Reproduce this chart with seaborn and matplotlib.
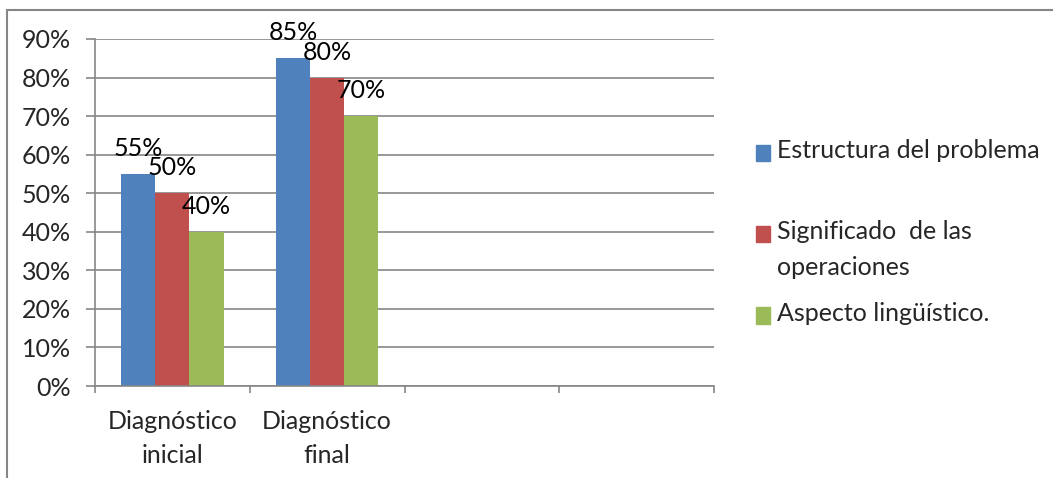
import numpy as np
import pandas as pd
import matplotlib
matplotlib.use("Agg")
import matplotlib.pyplot as plt
import matplotlib.patches as mpatches
from matplotlib.legend_handler import HandlerPatch
import seaborn as sns

# data (percent)
categories = ["Diagnóstico\ninicial", "Diagnóstico\nfinal", "", " "]
aspects = ["Estructura del problema", "Significado  de las\noperaciones", "Aspecto lingüístico."]
inicial = [55, 50, 40]
final = [85, 80, 70]
y_ticks = [0, 10, 20, 30, 40, 50, 60, 70, 80, 90]
colors = ["#4F81BD", "#C0504D", "#9BBB59"]

df = pd.DataFrame({
    "diagnostico": [categories[0]] * 3 + [categories[1]] * 3,
    "aspecto": aspects + aspects,
    "valor": inicial + final,
})

sns.set_style("white")
plt.rcParams["font.family"] = ["Lato", "DejaVu Sans"]
FS = 18
GRAY = "#868686"

fig = plt.figure(figsize=(10.53, 4.78), dpi=100)
ax = fig.add_axes([95 / 1053, 1 - 386 / 478, (714 - 95) / 1053, (386 - 39) / 478])

sns.barplot(data=df, x="diagnostico", y="valor", hue="aspecto",
            order=categories, hue_order=aspects, palette=colors,
            width=0.663, saturation=1, linewidth=0, legend=False, ax=ax)

for cont in ax.containers:
    ax.bar_label(cont, fmt="{:.0f}%", padding=10, fontsize=FS, color="black")

ax.set_ylim(0, 90)
ax.set_yticks(y_ticks, labels=[f"{v}%" for v in y_ticks])
ax.set_xlim(-0.5, len(categories) - 0.5)
ax.set_xticks(range(len(categories)), labels=categories)
ax.set_xticks(np.arange(-0.5, len(categories), 1), minor=True)
ax.set_xlabel("")
ax.set_ylabel("")

ax.yaxis.grid(True, color=GRAY, linewidth=1.2)
ax.xaxis.grid(False)
ax.set_axisbelow(True)
for s in ["top", "right"]:
    ax.spines[s].set_visible(False)
for s in ["left", "bottom"]:
    ax.spines[s].set_color(GRAY)
    ax.spines[s].set_linewidth(1.2)

ax.tick_params(axis="y", left=True, length=6.5, width=1.2, color=GRAY, pad=11, labelsize=FS)
ax.tick_params(axis="x", which="major", bottom=True, length=0, pad=17, labelsize=FS)
ax.tick_params(axis="x", which="minor", bottom=True, length=5, width=1.2, color=GRAY)
for lab in ax.get_xticklabels():
    lab.set_linespacing(1.6)
    lab.set_ha("center")


def upper_square(legend, orig_handle, xdescent, ydescent, width, height, fontsize):
    return mpatches.Rectangle((-xdescent, -ydescent + 0.64 * fontsize), width, height)


handles = [mpatches.Patch(color=c) for c in colors]
labels = ["Estructura del problema\n", "Significado  de las\noperaciones", "Aspecto lingüístico.\n"]
leg = fig.legend(handles, labels, loc="upper left", bbox_to_anchor=(756 / 1053, 1 - 139 / 478),
                 frameon=False, fontsize=FS, borderpad=0, borderaxespad=0,
                 handlelength=0.57, handleheight=0.62, handletextpad=0.28, labelspacing=0.92,
                 handler_map={mpatches.Patch: HandlerPatch(patch_func=upper_square)})
for t in leg.get_texts():
    t.set_linespacing(1.65)

# outer chart frame
fig.add_artist(mpatches.Rectangle((7 / 1053, -0.1), 1.2, (1 - 10 / 478) + 0.1,
                                  transform=fig.transFigure, fill=False,
                                  edgecolor=GRAY, linewidth=1.5))

fig.savefig("out.png", dpi=100)
